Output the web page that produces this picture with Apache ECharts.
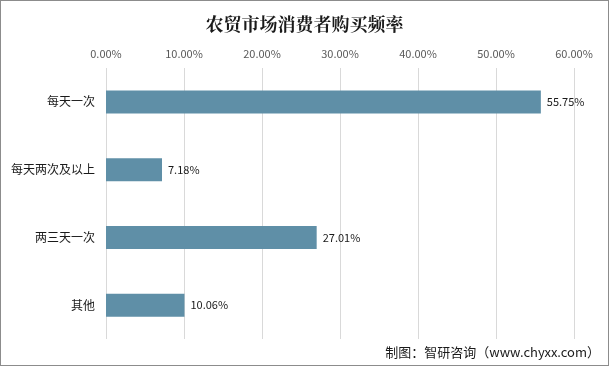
<!DOCTYPE html>
<html><head><meta charset="utf-8">
<script src="https://cdn.jsdelivr.net/npm/echarts@6/dist/echarts.min.js"></script>
<style>html,body{margin:0;padding:0;background:#fff}#c{width:609px;height:366px;box-sizing:border-box;border:1px solid #8c8c8c}</style>
</head><body><div id="c"></div>
<script>
const titleText = '农贸市场消费者购买频率';
const categories = ['每天一次', '每天两次及以上', '两三天一次', '其他'];
const values = [55.75, 7.18, 27.01, 10.06];
const sourceText = '制图：智研咨询（www.chyxx.com）';

const chart = echarts.init(document.getElementById('c'));
chart.setOption({
  animation: false,
  title: {
    text: titleText, left: 'center', top: 9,
    textStyle: {fontFamily: 'Noto Serif CJK SC, Noto Sans CJK SC', fontSize: 18, fontWeight: 'bold', color: '#1a1a1a'}
  },
  grid: {left: 105, right: 34, top: 67, bottom: 26, containLabel: false},
  xAxis: {
    type: 'value', position: 'top', min: 0, max: 60, interval: 10,
    axisLabel: {formatter: v => v.toFixed(2) + '%', color: '#595959', fontSize: 11, fontFamily: 'Noto Sans CJK SC', margin: 9},
    axisLine: {show: false}, axisTick: {show: false},
    splitLine: {lineStyle: {color: '#d9d9d9'}}
  },
  yAxis: {
    type: 'category', data: categories, inverse: true,
    axisLabel: {color: '#1a1a1a', fontSize: 12, fontFamily: 'Noto Sans CJK SC', margin: 11},
    axisLine: {show: false}, axisTick: {show: false}
  },
  series: [{
    type: 'bar', data: values, barWidth: 23,
    itemStyle: {color: '#5f8fa7'},
    label: {show: true, position: 'right', distance: 6, formatter: p => p.value.toFixed(2) + '%', color: '#1a1a1a', fontSize: 11, fontFamily: 'Noto Sans CJK SC'}
  }],
  graphic: [{
    type: 'text', right: 8, bottom: 6,
    style: {text: sourceText, fontSize: 13, fill: '#1a1a1a', fontFamily: 'Noto Sans CJK SC'}
  }]
});
</script></body></html>
